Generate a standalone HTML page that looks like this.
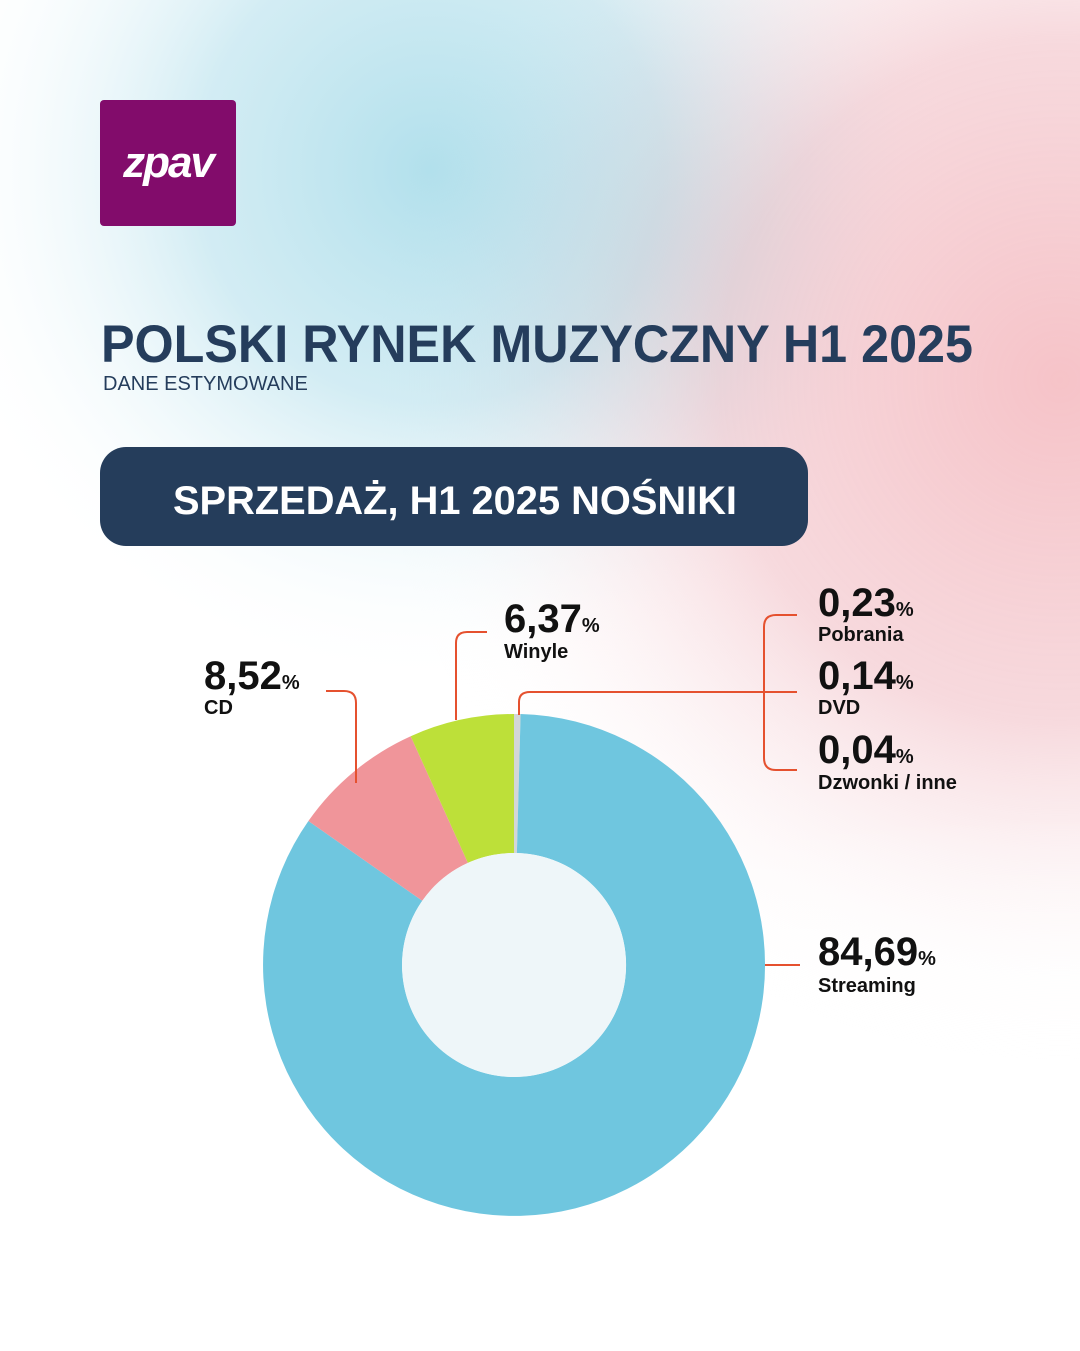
<!DOCTYPE html>
<html><head><meta charset="utf-8"><style>
html,body{margin:0;padding:0}
body{width:1080px;height:1351px;overflow:hidden;position:relative;font-family:"Liberation Sans","DejaVu Sans",sans-serif;background:#fff}
</style></head><body>
<svg width="1080" height="1351" viewBox="0 0 1080 1351" xmlns="http://www.w3.org/2000/svg" style="position:absolute;left:0;top:0">
<defs>
<radialGradient id="gb" cx="430" cy="170" r="520" gradientUnits="userSpaceOnUse">
<stop offset="0" stop-color="#b2e0ec"/><stop offset="0.45" stop-color="#c8e8f1" stop-opacity="0.8"/><stop offset="1" stop-color="#ffffff" stop-opacity="0"/></radialGradient>
<radialGradient id="gp" cx="1060" cy="380" r="680" gradientUnits="userSpaceOnUse">
<stop offset="0" stop-color="#f6c3c8"/><stop offset="0.5" stop-color="#f5d0d5" stop-opacity="0.8"/><stop offset="1" stop-color="#ffffff" stop-opacity="0"/></radialGradient>
<linearGradient id="fade" x1="0" y1="0" x2="0" y2="1">
<stop offset="0.6" stop-color="#fff" stop-opacity="0"/><stop offset="0.95" stop-color="#fff" stop-opacity="1"/></linearGradient>
</defs>
<rect width="1080" height="1351" fill="#fff"/>
<rect width="1080" height="1351" fill="url(#gb)"/>
<rect width="1080" height="1351" fill="url(#gp)" style="mix-blend-mode:multiply"/>
<rect width="1080" height="1351" fill="url(#fade)"/>
<rect x="100" y="100" width="136" height="126" rx="4" fill="#820c6b"/>
<text x="168" y="177" text-anchor="middle" font-size="44" font-weight="bold" font-style="italic" fill="#fff" letter-spacing="-2">zpav</text>
<text x="101" y="362" font-size="53" font-weight="bold" fill="#253d5c" textLength="872" lengthAdjust="spacingAndGlyphs">POLSKI RYNEK MUZYCZNY H1 2025</text>
<text x="103" y="390" font-size="20" fill="#253d5c">DANE ESTYMOWANE</text>
<rect x="100" y="447" width="708" height="99" rx="26" fill="#253d5b"/>
<text x="173" y="514" font-size="40" font-weight="bold" fill="#fff" textLength="564" lengthAdjust="spacingAndGlyphs">SPRZEDAŻ, H1 2025 NOŚNIKI</text>
<g transform="translate(514,965)">
<path d="M0,-251 A251,251 0 0 1 6.6,-251 L2.9,-112 A112,112 0 0 0 0,-112Z" fill="#d3d6d8"/>
<path d="M6.6,-251 A251,251 0 1 1 -205.6,-144 L-91.7,-64.2 A112,112 0 1 0 2.9,-112Z" fill="#6fc6df"/>
<path d="M-205.6,-144 A251,251 0 0 1 -103.3,-228.8 L-46.1,-102.1 A112,112 0 0 0 -91.7,-64.2Z" fill="#f0959a"/>
<path d="M-103.3,-228.8 A251,251 0 0 1 0,-251 L0,-112 A112,112 0 0 0 -46.1,-102.1Z" fill="#bde039"/>
<circle r="112" fill="#eef6f9"/>
</g>
<g fill="none" stroke="#e5512f" stroke-width="2">
<path d="M326,691 H344 Q356,691 356,703 V783"/>
<path d="M487,632 H467 Q456,632 456,643 V720"/>
<path d="M519,715 V702 Q519,692 530,692 H797"/>
<path d="M797,615 H776 Q764,615 764,627 V758 Q764,770 776,770 H797"/>
<path d="M765,965 H800"/>
</g>
<g font-weight="bold" fill="#111">
<text x="204" y="689" font-size="40">8,52<tspan font-size="20">%</tspan></text>
<text x="204" y="714" font-size="20">CD</text>
<text x="504" y="632" font-size="40">6,37<tspan font-size="20">%</tspan></text>
<text x="504" y="658" font-size="20">Winyle</text>
<text x="818" y="616" font-size="40">0,23<tspan font-size="20">%</tspan></text>
<text x="818" y="641" font-size="20">Pobrania</text>
<text x="818" y="689" font-size="40">0,14<tspan font-size="20">%</tspan></text>
<text x="818" y="714" font-size="20">DVD</text>
<text x="818" y="763" font-size="40">0,04<tspan font-size="20">%</tspan></text>
<text x="818" y="789" font-size="20">Dzwonki / inne</text>
<text x="818" y="965" font-size="40">84,69<tspan font-size="20">%</tspan></text>
<text x="818" y="992" font-size="20">Streaming</text>
</g>
</svg>
</body></html>
